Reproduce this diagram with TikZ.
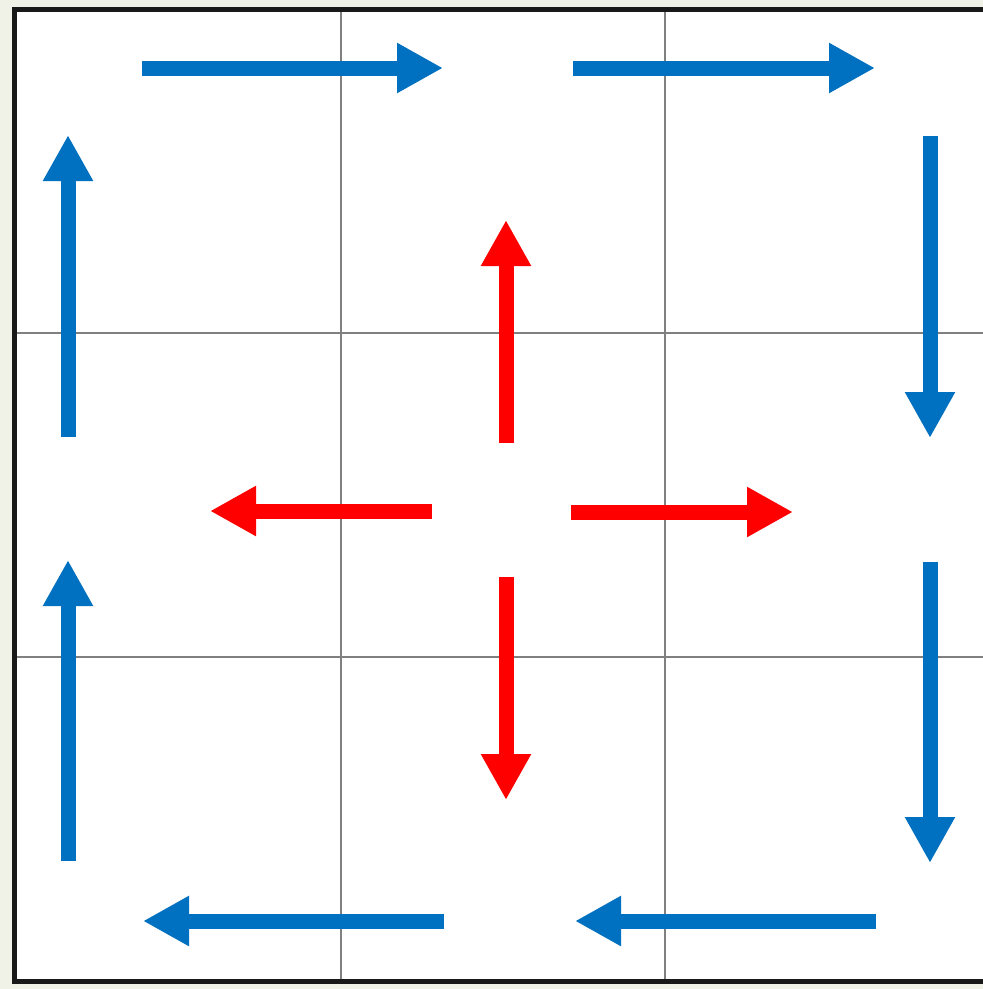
\documentclass[tikz,border=0pt]{standalone}
\usepackage{xcolor}
\usepackage{tikz}
\usetikzlibrary{arrows.meta}

\definecolor{flowblue}{RGB}{0,112,192}
\definecolor{flowred}{RGB}{255,0,0}
\definecolor{pagetint}{RGB}{240,242,232}

\begin{document}
\begin{tikzpicture}[x=1pt,y=-1pt,>={Triangle[length=46pt,width=47pt]},
  gridline/.style={draw=black!50,line width=1.3pt},
  frame/.style={draw=black!90,line width=5pt},
  outer/.style={->,flowblue,line width=15pt},
  inner/.style={->,flowred,line width=15pt}]
\useasboundingbox (0,0) rectangle (983,989);
\clip (0,0) rectangle (983,989);
\fill[pagetint] (0,0) rectangle (983,989);
\fill[white] (14.5,9) rectangle (995,981.5);
% grid
\foreach \g in {341,665}{
  \draw[gridline] (\g,9) -- (\g,981.5);
}
\foreach \g in {333,657}{
  \draw[gridline] (14.5,\g) -- (995,\g);
}
\draw[frame] (995,9) -- (14.5,9) -- (14.5,981.5) -- (995,981.5);
% end points
\coordinate (c) at (506,511);
\coordinate (t1a) at (142,68);  \coordinate (t1b) at (443,68);
\coordinate (t2a) at (573,68);  \coordinate (t2b) at (875,68);
\coordinate (r1a) at (930,136); \coordinate (r1b) at (930,438);
\coordinate (r2a) at (930,562); \coordinate (r2b) at (930,863);
\coordinate (b1a) at (876,921); \coordinate (b1b) at (575,921);
\coordinate (b2a) at (444,921); \coordinate (b2b) at (143,921);
\coordinate (l1a) at (68,861);  \coordinate (l1b) at (68,560);
\coordinate (l2a) at (68,437);  \coordinate (l2b) at (68,135);
% outer ring
\foreach \s in {t1,t2,r1,r2,b1,b2,l1,l2}{
  \draw[outer] (\s a) -- (\s b);
}
% centre spread
\draw[inner] ([yshift=68pt]c) -- ([yshift=291pt]c);
\draw[inner] ([xshift=-74pt]c) -- ([xshift=-296pt]c);
\draw[inner] ([xshift=65pt,yshift=-1pt]c) -- ([xshift=287pt,yshift=-1pt]c);
\draw[inner] ([yshift=-66pt]c) -- ([yshift=-289pt]c);
\end{tikzpicture}
\end{document}
